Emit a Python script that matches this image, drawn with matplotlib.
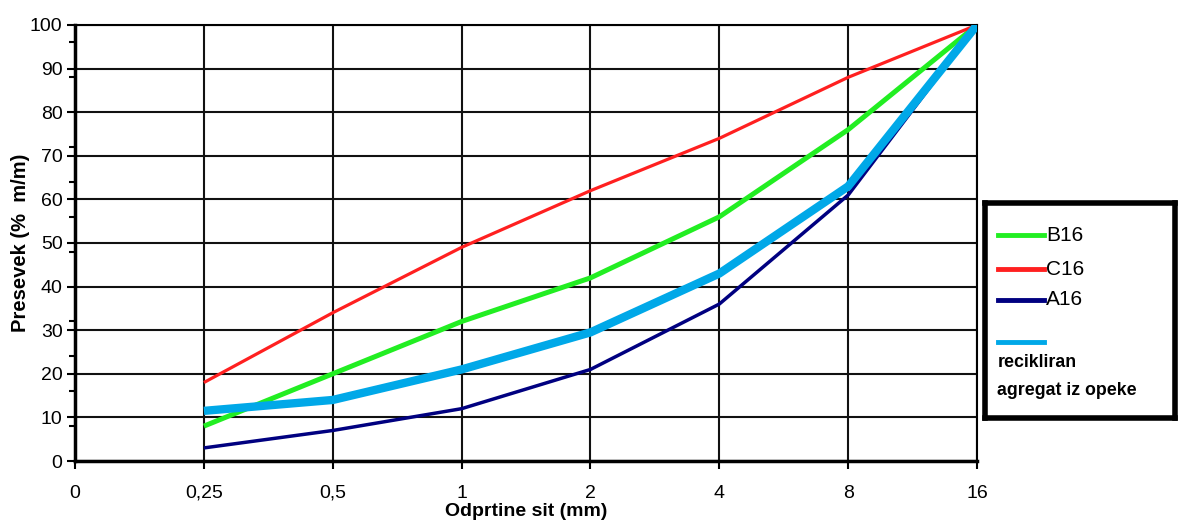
import numpy as np
import matplotlib.pyplot as plt
from matplotlib.lines import Line2D
from matplotlib.ticker import MultipleLocator

plt.rcParams['font.family'] = ['Liberation Sans', 'DejaVu Sans']

# sieve openings (mm) shown as equally spaced categories
sieves = ['0', '0,25', '0,5', '1', '2', '4', '8', '16']
b16 = [8, 20, 32, 42, 56, 76, 100]
c16 = [18, 34, 49, 62, 74, 88, 100]
a16 = [3, 7, 12, 21, 36, 61, 100]
recycled = [11.5, 14, 21, 29.5, 43, 63, 100]

series = [
    ('B16', b16, '#22ee22', 3.6),
    ('C16', c16, '#ff2020', 2.3),
    ('A16', a16, '#000080', 2.5),
    ('recikliran\nagregat iz opeke', recycled, '#00a8e8', 6.0),
]

fig = plt.figure(figsize=(11.78, 5.25), dpi=100)
ax = fig.add_axes([0.0637, 0.1219, 0.8294 - 0.0637, 0.9524 - 0.1219])

x = np.arange(len(sieves))
for name, vals, col, lw in series:
    ax.plot(x[1:], vals, color=col, lw=lw, solid_capstyle='butt', zorder=3)

ax.set_xlim(0, len(sieves) - 1)
ax.set_ylim(0, 100)
ax.set_xticks(x)
ax.set_xticklabels(sieves)
ax.yaxis.set_major_locator(MultipleLocator(10))
ax.yaxis.set_minor_locator(MultipleLocator(8))
ax.grid(True, which='major', color='#111111', lw=1.5, zorder=1)
for s in ax.spines.values():
    s.set_color('black')
    s.set_linewidth(1.5)
ax.spines['left'].set_linewidth(2.5)
ax.spines['bottom'].set_linewidth(2.5)
ax.tick_params(axis='both', which='major', length=6, width=1.5, labelsize=14, colors='black')
ax.tick_params(axis='x', pad=11)
ax.tick_params(axis='y', pad=3)
ax.tick_params(axis='y', which='minor', length=4, width=1.5)
ax.set_ylabel('Presevek (%  m/m)', fontsize=14.5, fontweight='bold', labelpad=0)
ax.set_xlabel('Odprtine sit (mm)', fontsize=14, fontweight='bold', labelpad=1)

# legend box
lax = fig.add_axes([985 / 1178, 1 - 418 / 525, 190 / 1178, 215 / 525])
lax.set_xlim(0, 1)
lax.set_ylim(0, 1)
lax.set_xticks([])
lax.set_yticks([])
for s in lax.spines.values():
    s.set_linewidth(4)
ys = [0.851, 0.693, 0.549]
for (name, vals, col, lw), yy in zip(series[:3], ys):
    lax.add_line(Line2D([0.07, 0.31], [yy, yy], color=col, lw=3.5))
    lax.text(0.32, yy, name, fontsize=15, va='center', ha='left')
lax.add_line(Line2D([0.07, 0.31], [0.353, 0.353], color=series[3][2], lw=3.5))
for line, yy in zip(series[3][0].split('\n'), [0.26, 0.13]):
    lax.text(0.065, yy, line, fontsize=12.8, fontweight='bold', va='center', ha='left')

fig.savefig('out.png', dpi=100)
